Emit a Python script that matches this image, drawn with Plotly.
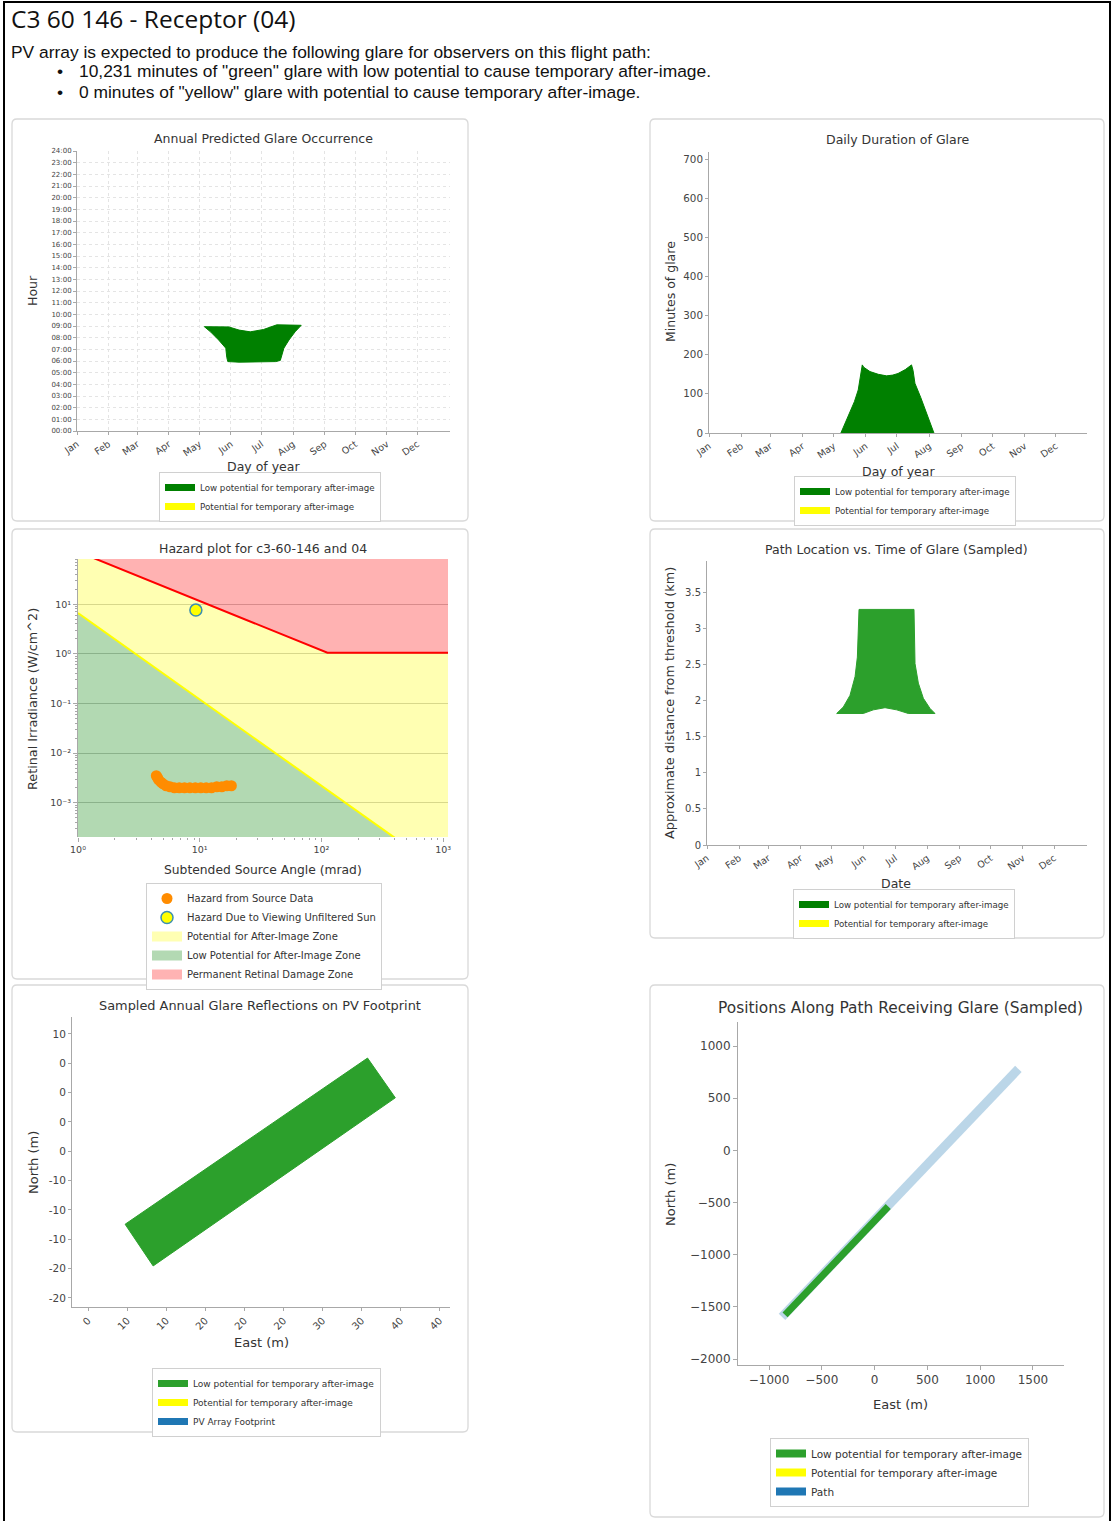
import plotly.graph_objects as go

W, H = 1112, 1521

# ---------------- data ----------------
month_days = [1, 32, 60, 91, 121, 152, 182, 213, 244, 274, 305, 335]
month_names = ["Jan", "Feb", "Mar", "Apr", "May", "Jun", "Jul", "Aug", "Sep", "Oct", "Nov", "Dec"]

hour_ticks = list(range(25))
hour_labels = [f"{h:02d}:00" for h in hour_ticks]

# Panel 1: annual predicted glare occurrence (outline of glare region)
occ_day = [126, 138, 150, 160, 171, 184, 197, 210, 221, 215, 209, 204, 202, 200.5,
           196, 180, 160, 149, 148, 147, 140, 132, 126]
occ_hour = [8.94, 8.95, 8.92, 8.65, 8.5, 8.7, 9.1, 9.08, 9.06, 8.5, 7.8, 7.1, 6.6, 6.05,
            5.95, 5.9, 5.9, 5.95, 6.3, 7.1, 7.8, 8.5, 8.94]

# Panel 2: daily duration of glare (minutes)
dur_day = [128, 132, 136.7, 141, 144.7, 147, 148.6, 150, 156, 164, 172, 178, 183, 190,
           196, 197.5, 199.3, 205, 210.5, 214, 217.6]
dur_min = [0, 25, 50, 80, 110, 145, 174, 168, 157, 150, 146, 148, 152, 162,
           174, 160, 127, 90, 50, 25, 0]

# Panel 3: hazard plot
hazard_angle = [4.4, 4.5, 4.6, 4.8, 5.0, 5.3, 5.7, 6.2, 6.8, 7.5, 8.3, 9.2, 10.2,
                11.3, 12.5, 13.8, 15.2, 16.7, 18.2]
hazard_irr = [0.0035, 0.0032, 0.0029, 0.0026, 0.0024, 0.0022, 0.0021, 0.0020, 0.0020,
              0.0020, 0.0020, 0.0020, 0.0020, 0.0020, 0.0020, 0.0021, 0.0021, 0.0022, 0.0022]
sun_angle = [9.3]
sun_irr = [7.6]
green_zone_x = [1, 1100, 1]
green_zone_y = [6.6, 3.4e-5, 3.4e-5]
yellow_zone_x = [1, 1100, 1100, 112, 1]
yellow_zone_y = [6.6, 3.4e-5, 1.05, 1.05, 114]
red_zone_x = [1, 112, 1100, 1100, 1]
red_zone_y = [114, 1.05, 1.05, 1000, 1000]
yellow_line_x = [1, 1100]
yellow_line_y = [6.6, 3.4e-5]
red_line_x = [1, 112, 1100]
red_line_y = [114, 1.05, 1.05]
haz_x_ticks = [1, 10, 100, 1000]
haz_x_labels = ["10⁰", "10¹", "10²", "10³"]
haz_y_ticks = [0.001, 0.01, 0.1, 1, 10]
haz_y_labels = ["10⁻³", "10⁻²", "10⁻¹", "10⁰", "10¹"]

# Panel 4: path location vs time of glare
loc_day = [147.3, 200.2, 201.2, 204.4, 209.2, 215.6, 220.4, 194.7, 183.6, 172.3, 161,
           151.4, 125.8, 132.2, 138.6, 143.5, 145.7, 146.6, 147.3]
loc_km = [3.26, 3.26, 2.51, 2.24, 2.03, 1.89, 1.82, 1.82, 1.87, 1.90, 1.87,
          1.82, 1.82, 1.91, 2.07, 2.33, 2.60, 2.97, 3.26]

# Panel 5: PV footprint glare reflections
fp_east = [32.2, 35.4, 7.5, 4.27, 32.2]
fp_north = [8.3, 2.2, -23.6, -17.2, 8.3]
east_ticks = [0, 4.5, 9, 13.5, 18, 22.5, 27, 31.5, 36, 40.5]
east_labels = ["0", "10", "10", "20", "20", "20", "30", "30", "40", "40"]
north_ticks = [12, 7.5, 3, -1.5, -6, -10.5, -15, -19.5, -24, -28.5]
north_labels = ["10", "0", "0", "0", "0", "-10", "-10", "-10", "-20", "-20"]

# Panel 6: positions along path
path_east = [-877, 1362]
path_north = [-1596, 780]
glare_east = [-848, 129]
glare_north = [-1577, -538]

# ---------------- styling helpers ----------------
FONT = "DejaVu Sans"
AX_LINE = "#a8a8a8"
TICK_C = "#444444"
GREEN = "#008000"
GREEN2 = "#2ca02c"
YELLOW = "#ffff00"
BLUE = "#1f77b4"


def xdom(a, b):
    return [a / W, b / W]


def ydom(top, bottom):
    return [1 - bottom / H, 1 - top / H]


def axis(**kw):
    d = dict(showline=True, linecolor=AX_LINE, linewidth=1, ticks="outside", ticklen=3,
             tickcolor=AX_LINE, tickfont=dict(family=FONT, size=9, color=TICK_C),
             showgrid=False, zeroline=False, mirror=False, fixedrange=True, automargin=False)
    d.update(kw)
    return d


def leg(xpx, ypx, size):
    return dict(x=xpx / W, y=1 - ypx / H, xanchor="left", yanchor="top", bgcolor="white",
                bordercolor="#d0d0d0", borderwidth=1,
                font=dict(family=FONT, size=size, color="#333333"),
                itemwidth=30, tracegroupgap=0, itemclick=False, itemdoubleclick=False)


def rounded(x0, y0, x1, y1, r=5):
    X = lambda v: v / W
    Y = lambda v: 1 - v / H
    path = (f"M {X(x0 + r)},{Y(y0)} L {X(x1 - r)},{Y(y0)} Q {X(x1)},{Y(y0)} {X(x1)},{Y(y0 + r)} "
            f"L {X(x1)},{Y(y1 - r)} Q {X(x1)},{Y(y1)} {X(x1 - r)},{Y(y1)} "
            f"L {X(x0 + r)},{Y(y1)} Q {X(x0)},{Y(y1)} {X(x0)},{Y(y1 - r)} "
            f"L {X(x0)},{Y(y0 + r)} Q {X(x0)},{Y(y0)} {X(x0 + r)},{Y(y0)} Z")
    return dict(type="path", xref="paper", yref="paper", path=path,
                line=dict(color="#d9d9d9", width=1.3), fillcolor="rgba(0,0,0,0)", layer="below")


def legend_swatch(name, color, legend, xa, ya, width=7):
    return go.Scatter(x=[None], y=[None], mode="lines", line=dict(color=color, width=width),
                      name=name, legend=legend, xaxis=xa, yaxis=ya, hoverinfo="skip")


fig = go.Figure()

# ---------- Panel 1 ----------
fig.add_trace(go.Scatter(x=occ_day, y=occ_hour, mode="lines", fill="toself", fillcolor=GREEN,
                         line=dict(color=GREEN, width=1), showlegend=False, xaxis="x", yaxis="y"))
fig.add_trace(legend_swatch("Low potential for temporary after-image", GREEN, "legend", "x", "y"))
fig.add_trace(legend_swatch("Potential for temporary after-image", YELLOW, "legend", "x", "y"))

# ---------- Panel 2 ----------
fig.add_trace(go.Scatter(x=dur_day, y=dur_min, mode="lines", fill="tozeroy", fillcolor=GREEN,
                         line=dict(color=GREEN, width=1), showlegend=False, xaxis="x2", yaxis="y2"))
fig.add_trace(legend_swatch("Low potential for temporary after-image", GREEN, "legend2", "x2", "y2"))
fig.add_trace(legend_swatch("Potential for temporary after-image", YELLOW, "legend2", "x2", "y2"))

# ---------- Panel 3 ----------
Z_RED = "rgba(255,0,0,0.3)"
Z_YEL = "rgba(255,255,0,0.3)"
Z_GRN = "rgba(0,128,0,0.3)"
for zx, zy, zc in [(green_zone_x, green_zone_y, Z_GRN), (yellow_zone_x, yellow_zone_y, Z_YEL),
                   (red_zone_x, red_zone_y, Z_RED)]:
    fig.add_trace(go.Scatter(x=zx, y=zy, mode="lines", fill="toself", fillcolor=zc,
                             line=dict(width=0, color=zc), showlegend=False, hoverinfo="skip",
                             xaxis="x3", yaxis="y3"))
fig.add_trace(go.Scatter(x=yellow_line_x, y=yellow_line_y, mode="lines", line=dict(color=YELLOW, width=2),
                         showlegend=False, xaxis="x3", yaxis="y3"))
fig.add_trace(go.Scatter(x=red_line_x, y=red_line_y, mode="lines", line=dict(color="#ff0000", width=2),
                         showlegend=False, xaxis="x3", yaxis="y3"))
fig.add_trace(go.Scatter(x=hazard_angle, y=hazard_irr, mode="markers",
                         marker=dict(color="#ff8c00", size=11, line=dict(width=0)),
                         name="Hazard from Source Data", legend="legend3", xaxis="x3", yaxis="y3"))
fig.add_trace(go.Scatter(x=sun_angle, y=sun_irr, mode="markers",
                         marker=dict(color="#ffff00", size=12, line=dict(color="#3b8fb0", width=1.5)),
                         name="Hazard Due to Viewing Unfiltered Sun", legend="legend3",
                         xaxis="x3", yaxis="y3"))
fig.add_trace(legend_swatch("Potential for After-Image Zone", "#ffffb3", "legend3", "x3", "y3", 10))
fig.add_trace(legend_swatch("Low Potential for After-Image Zone", "#b3d9b3", "legend3", "x3", "y3", 10))
fig.add_trace(legend_swatch("Permanent Retinal Damage Zone", "#ffb3b3", "legend3", "x3", "y3", 10))

# ---------- Panel 4 ----------
fig.add_trace(go.Scatter(x=loc_day, y=loc_km, mode="lines", fill="toself", fillcolor=GREEN2,
                         line=dict(color=GREEN2, width=1), showlegend=False, xaxis="x4", yaxis="y4"))
fig.add_trace(legend_swatch("Low potential for temporary after-image", GREEN, "legend4", "x4", "y4"))
fig.add_trace(legend_swatch("Potential for temporary after-image", YELLOW, "legend4", "x4", "y4"))

# ---------- Panel 5 ----------
fig.add_trace(go.Scatter(x=fp_east, y=fp_north, mode="lines", fill="toself", fillcolor=GREEN2,
                         line=dict(color=GREEN2, width=1), showlegend=False, xaxis="x5", yaxis="y5"))
fig.add_trace(legend_swatch("Low potential for temporary after-image", GREEN2, "legend5", "x5", "y5"))
fig.add_trace(legend_swatch("Potential for temporary after-image", YELLOW, "legend5", "x5", "y5"))
fig.add_trace(legend_swatch("PV Array Footprint", BLUE, "legend5", "x5", "y5"))

# ---------- Panel 6 ----------
fig.add_trace(go.Scatter(x=path_east, y=path_north, mode="lines",
                         line=dict(color="rgba(31,119,180,0.3)", width=9),
                         showlegend=False, xaxis="x6", yaxis="y6"))
fig.add_trace(go.Scatter(x=glare_east, y=glare_north, mode="lines",
                         line=dict(color=GREEN2, width=7),
                         showlegend=False, xaxis="x6", yaxis="y6"))
fig.add_trace(legend_swatch("Low potential for temporary after-image", GREEN2, "legend6", "x6", "y6", 8))
fig.add_trace(legend_swatch("Potential for temporary after-image", YELLOW, "legend6", "x6", "y6", 8))
fig.add_trace(legend_swatch("Path", BLUE, "legend6", "x6", "y6", 8))

# ---------------- axes ----------------
month_axis = dict(tickmode="array", tickvals=month_days, ticktext=month_names, tickangle=-35)
MONTH_FONT = dict(family=FONT, size=9.5, color=TICK_C)

log_minor_x = [m * 10 ** e for e in range(0, 3) for m in range(2, 10)]
log_minor_y = [m * 10.0 ** e for e in range(-4, 2) for m in range(2, 10)]

layout_axes = dict(
    xaxis=axis(domain=xdom(77, 450), range=[1, 367], anchor="y", showgrid=True, gridcolor="#e4e4e4",
               griddash="dot", tickfont=MONTH_FONT, **month_axis),
    yaxis=axis(domain=ydom(151, 431), range=[0, 24], anchor="x", tickmode="array", tickvals=hour_ticks,
               ticktext=hour_labels, showgrid=True, gridcolor="#e4e4e4", griddash="dot",
               tickfont=dict(family=FONT, size=7, color=TICK_C)),
    xaxis2=axis(domain=xdom(709, 1087), range=[1, 365], anchor="y2", tickfont=MONTH_FONT, **month_axis),
    yaxis2=axis(domain=ydom(152, 433), range=[0, 718], anchor="x2", dtick=100,
                tickfont=dict(family=FONT, size=10.3, color=TICK_C)),
    xaxis3=axis(domain=xdom(78, 448), type="log", range=[0, 3.04], anchor="y3", showline=False,
                tickmode="array", tickvals=haz_x_ticks, ticktext=haz_x_labels,
                ticklen=4, tickfont=dict(family=FONT, size=9.5, color=TICK_C),
                minor=dict(tickmode="array", tickvals=log_minor_x, ticks="outside", ticklen=2,
                           tickcolor=AX_LINE)),
    yaxis3=axis(domain=ydom(559, 837), type="log", range=[-3.69, 1.91], anchor="x3", showline=True,
                tickmode="array", tickvals=haz_y_ticks, ticktext=haz_y_labels,
                showgrid=True, gridcolor="#c8c8c8", ticklen=4,
                tickfont=dict(family=FONT, size=9.5, color=TICK_C),
                minor=dict(tickmode="array", tickvals=log_minor_y, ticks="outside", ticklen=2,
                           tickcolor=AX_LINE)),
    xaxis4=axis(domain=xdom(707, 1087), range=[1, 366.7], anchor="y4", tickfont=MONTH_FONT, **month_axis),
    yaxis4=axis(domain=ydom(561, 845), range=[0, 3.93], anchor="x4", dtick=0.5,
                tickfont=dict(family=FONT, size=10, color=TICK_C)),
    xaxis5=axis(domain=xdom(72, 450), range=[-1.85, 41.7], anchor="y5", tickmode="array",
                tickvals=east_ticks, ticktext=east_labels, tickangle=-45,
                tickfont=dict(family=FONT, size=10, color=TICK_C)),
    yaxis5=axis(domain=ydom(1017, 1307), range=[-29.9, 14.6], anchor="x5", tickmode="array",
                tickvals=north_ticks, ticktext=north_labels,
                tickfont=dict(family=FONT, size=10.5, color=TICK_C)),
    xaxis6=axis(domain=xdom(738, 1064), range=[-1294, 1794], anchor="y6", dtick=500, tick0=0,
                ticklen=4, tickfont=dict(family=FONT, size=12, color=TICK_C)),
    yaxis6=axis(domain=ydom(1022, 1365), range=[-2057, 1230], anchor="x6", dtick=500, tick0=0,
                ticklen=4, tickfont=dict(family=FONT, size=12, color=TICK_C)),
)

# ---------------- annotations ----------------
ann = []


def text(s, xpx, ypx, size=12.5, angle=0, family=FONT, color="#333333", xanchor="center"):
    ann.append(dict(text=s, x=xpx / W, y=1 - ypx / H, xref="paper", yref="paper", showarrow=False,
                    xanchor=xanchor, yanchor="middle", textangle=angle,
                    font=dict(family=family, size=size, color=color)))


# header
HDR = "Liberation Sans"
text("C3 60 146 - Receptor (04)", 9, 19, size=24.5, family="Open Sans", color="#111111", xanchor="left")
text("PV array is expected to produce the following glare for observers on this flight path:",
     9, 52, size=17.4, family=HDR, color="#111111", xanchor="left")
text("•", 55, 71, size=17.4, family=HDR, color="#111111", xanchor="left")
text("10,231 minutes of \"green\" glare with low potential to cause temporary after-image.",
     77, 71, size=17.4, family=HDR, color="#111111", xanchor="left")
text("•", 55, 92, size=17.4, family=HDR, color="#111111", xanchor="left")
text("0 minutes of \"yellow\" glare with potential to cause temporary after-image.",
     77, 92, size=17.4, family=HDR, color="#111111", xanchor="left")

# panel titles and axis titles
text("Annual Predicted Glare Occurrence", 263, 139)
text("Hour", 33, 291, size=12.5, angle=-90)
text("Day of year", 263, 467, size=12.5)

text("Daily Duration of Glare", 898, 140)
text("Minutes of glare", 670, 292, size=12.5, angle=-90)
text("Day of year", 898, 471, size=12.5)

text("Hazard plot for c3-60-146 and 04", 263, 548)
text("Retinal Irradiance (W/cm^2)", 32, 699, size=12.8, angle=-90)
text("Subtended Source Angle (mrad)", 263, 870, size=12.3)

text("Path Location vs. Time of Glare (Sampled)", 896, 549)
text("Approximate distance from threshold (km)", 669, 703, size=12.8, angle=-90)
text("Date", 896, 883, size=12.5)

text("Sampled Annual Glare Reflections on PV Footprint", 260, 1005, size=12.9)
text("North (m)", 33, 1163, size=13, angle=-90)
text("East (m)", 261, 1342, size=13)

text("Positions Along Path Receiving Glare (Sampled)", 900, 1008, size=15.4)
text("North (m)", 670, 1195, size=13, angle=-90)
text("East (m)", 900, 1404, size=13)

# ---------------- shapes ----------------
border_path = (f"M {4 / W},0 L {4 / W},{1 - 2 / H} L {1110 / W},{1 - 2 / H} L {1110 / W},0")
shapes = [
    dict(type="path", xref="paper", yref="paper", path=border_path,
         line=dict(color="#000000", width=2), fillcolor="rgba(0,0,0,0)", layer="below"),
    rounded(12, 119, 468, 521),
    rounded(650, 119, 1104, 521),
    rounded(12, 529, 468, 979),
    rounded(650, 529, 1104, 938),
    rounded(12, 985, 468, 1432),
    rounded(650, 985, 1104, 1517),
]

fig.update_layout(
    width=W, height=H, margin=dict(l=0, r=0, t=0, b=0, pad=0, autoexpand=False), autosize=False,
    paper_bgcolor="white", plot_bgcolor="rgba(0,0,0,0)",
    font=dict(family=FONT, color="#333333"),
    annotations=ann, shapes=shapes, hovermode=False,
    legend=leg(159, 472, 8.7),
    legend2=leg(794, 476, 8.7),
    legend3=leg(146, 883, 10),
    legend4=leg(793, 889, 8.7),
    legend5=leg(152, 1368, 9),
    legend6=leg(770, 1438, 10.5),
    **layout_axes,
)

fig.write_html("out.html", config={"displayModeBar": False},
               post_script="document.body.style.margin='0px';document.body.style.overflow='hidden';")
